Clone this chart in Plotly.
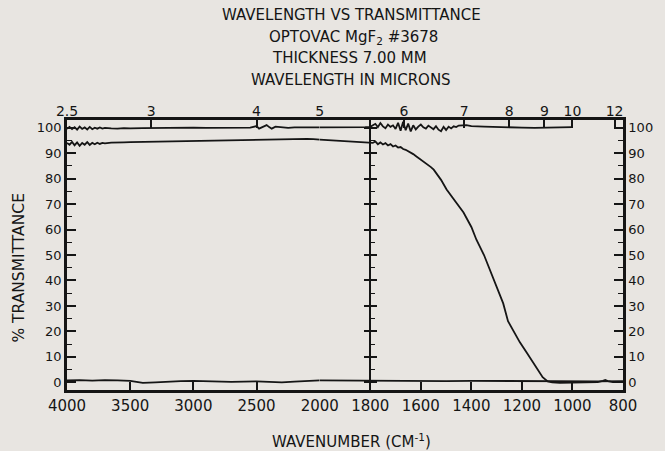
import plotly.graph_objects as go

# ---------------- data ----------------
# upper (100 %) reference trace
ref_wn = [4000, 3980, 3960, 3940, 3920, 3900, 3880, 3860, 3840, 3820, 3800, 3780, 3760, 3740,
          3720, 3700, 3650, 3600, 3550, 3500, 3400, 3300, 3200, 3100, 3000, 2900, 2800, 2700,
          2600, 2550, 2500, 2480, 2450, 2420, 2400, 2380, 2350, 2300, 2250, 2200, 2100, 2000,
          1900, 1820, 1800, 1790, 1780, 1770, 1760, 1750, 1740, 1730, 1720, 1710, 1700, 1690,
          1680, 1670, 1660, 1650, 1640, 1630, 1620, 1610, 1600, 1590, 1580, 1570, 1560, 1550,
          1540, 1530, 1520, 1510, 1500, 1490, 1480, 1470, 1460, 1450, 1420, 1400, 1350, 1300,
          1250, 1200, 1150, 1100, 1050, 1000]
ref_t = [99.5, 100.3, 99.4, 100.2, 99.2, 100.4, 99.5, 100.1, 99.3, 100.3, 99.4, 100.0, 99.6, 100.1,
         99.6, 99.9, 99.7, 99.6, 99.8, 99.7, 99.8, 99.9, 99.8, 99.9, 100.0, 99.9, 100.0, 99.9,
         100.1, 100.0, 100.6, 99.6, 100.3, 101.0, 100.2, 99.6, 100.4, 100.1, 99.9, 100.1, 100.0, 100.1,
         100.0, 100.2, 100.3, 100.8, 101.5, 100.2, 101.8, 100.5, 99.8, 101.2, 100.3, 100.9, 99.5, 101.9,
         98.8, 102.3, 99.0, 101.6, 98.5, 100.9, 99.3, 100.4, 101.2, 100.1, 99.6, 100.8, 100.0, 99.4,
         100.6, 99.2, 98.6, 100.3, 99.1, 100.4, 99.7, 100.5, 100.2, 100.8, 101.0, 100.6, 100.4, 100.2,
         100.1, 100.0, 99.9, 100.0, 100.1, 100.2]

# MgF2 sample trace
smp_wn = [4000, 3980, 3960, 3940, 3920, 3900, 3880, 3860, 3840, 3820, 3800, 3780, 3760, 3740,
          3720, 3700, 3650, 3600, 3550, 3500, 3400, 3300, 3200, 3100, 3000, 2900, 2800, 2700,
          2600, 2500, 2400, 2300, 2200, 2100, 2050, 2000, 1950, 1900, 1850, 1800, 1790, 1780,
          1770, 1760, 1750, 1740, 1730, 1720, 1710, 1700, 1690, 1680, 1670, 1660, 1650, 1640,
          1630, 1620, 1610, 1600, 1580, 1560, 1549, 1520, 1498, 1470, 1431, 1400, 1380, 1350,
          1325, 1300, 1274, 1255, 1230, 1208, 1180, 1157, 1135, 1118, 1098, 1080, 1050, 1000,
          950, 900, 880, 870, 860, 840, 800]
smp_t = [94.0, 93.3, 94.4, 93.1, 94.2, 92.9, 94.0, 93.3, 94.3, 93.2, 94.0, 93.5, 94.1, 93.6,
         94.0, 93.8, 94.1, 94.0, 94.2, 94.3, 94.4, 94.6, 94.7, 94.8, 94.9, 95.0, 95.1, 95.2,
         95.3, 95.4, 95.5, 95.6, 95.7, 95.6, 95.5, 95.3, 95.0, 94.8, 94.6, 94.3, 94.0, 94.6,
         93.5, 94.2, 93.4, 93.9, 93.0, 93.5, 92.6, 93.0, 92.2, 92.4, 91.6, 91.3, 90.8, 90.2,
         89.6, 88.9, 88.2, 87.4, 86.0, 84.5, 83.5, 79.5, 75.7, 71.8, 66.7, 61.0, 56.0, 50.0,
         44.0, 37.5, 31.0, 24.0, 19.5, 15.7, 11.5, 7.8, 4.5, 2.0, 0.4, 0.0, -0.2, -0.1,
         0.0, 0.1, 0.6, 0.9, 0.5, 0.1, 0.2]

# zero (blocked beam) trace
zero_wn = [4000, 3900, 3800, 3700, 3600, 3500, 3450, 3400, 3300, 3200, 3100, 3000, 2900, 2800,
           2700, 2600, 2500, 2400, 2300, 2200, 2100, 2000, 1900, 1800, 1700, 1600, 1500, 1400,
           1300, 1200, 1100, 1000, 900, 800]
zero_t = [0.8, 0.9, 0.7, 0.9, 0.8, 0.6, 0.2, -0.2, 0.0, 0.3, 0.5, 0.6, 0.4, 0.3,
          0.2, 0.3, 0.4, 0.2, 0.0, 0.3, 0.6, 0.8, 0.7, 0.6, 0.5, 0.4, 0.5, 0.6,
          0.5, 0.6, 0.4, 0.3, 0.4, 0.5]

wn_ticks_left = [4000, 3500, 3000, 2500, 2000]
wn_ticks_right = [1800, 1600, 1400, 1200, 1000, 800]
um_ticks_left = [2.5, 3, 4, 5]
um_ticks_left_text = ["2.5", "3", "4", "5"]
um_ticks_right = [6, 7, 8, 9, 10, 12]
um_ticks_right_text = ["6", "7", "8", "9", "10", "12"]
y_ticks = list(range(0, 101, 10))

TITLE_LINES = ["WAVELENGTH VS TRANSMITTANCE", "OPTOVAC MgF<sub>2</sub> #3678",
               "THICKNESS 7.00 MM", "WAVELENGTH IN MICRONS"]

# ---------------- layout helpers ----------------
BREAK = 2000
SPLIT = (4000 - BREAK) / ((4000 - BREAK) + 2 * (BREAK - 800))
INK = "#151515"
BG = "#e8e5e1"
FONT = "DejaVu Sans"
CENTER_WN = 1800
center_pos = SPLIT + (1 - SPLIT) * (BREAK - CENTER_WN) / (BREAK - 800)


def split(wn, t):
    lx, ly, rx, ry = [], [], [], []
    for a, b in zip(wn, t):
        if a >= BREAK:
            lx.append(a); ly.append(b)
        if a <= BREAK:
            rx.append(a); ry.append(b)
    return lx, ly, rx, ry


fig = go.Figure()
for wn, t in [(ref_wn, ref_t), (smp_wn, smp_t), (zero_wn, zero_t)]:
    lx, ly, rx, ry = split(wn, t)
    fig.add_trace(go.Scatter(x=lx, y=ly, xaxis="x", yaxis="y", mode="lines",
                             line=dict(color=INK, width=1.8), showlegend=False,
                             hoverinfo="skip"))
    fig.add_trace(go.Scatter(x=rx, y=ry, xaxis="x2", yaxis="y", mode="lines",
                             line=dict(color=INK, width=1.8), showlegend=False,
                             hoverinfo="skip"))

tickfont = dict(family=FONT, size=15, color=INK)
topfont = dict(family=FONT, size=14, color=INK)
common_x = dict(showgrid=False, zeroline=False, showline=True, linecolor=INK,
                linewidth=2.5, mirror=True, ticks="inside", ticklen=8, tickwidth=1.5,
                tickcolor=INK, tickfont=tickfont)
common_y = dict(range=[-3, 103], showgrid=False, zeroline=False, showline=True,
                linecolor=INK, linewidth=2.5, ticks="inside", ticklen=9, tickwidth=1.5,
                tickcolor=INK, tickvals=y_ticks, tickfont=dict(family=FONT, size=13, color=INK),
                minor=dict(dtick=5, ticks="inside", ticklen=5, tickwidth=1.2, tickcolor=INK))

fig.update_layout(
    width=665, height=451,
    margin=dict(l=67, r=35, t=120, b=61),
    paper_bgcolor=BG, plot_bgcolor=BG,
    xaxis=dict(domain=[0, SPLIT], range=[4000, BREAK], anchor="y",
               tickvals=wn_ticks_left, **common_x),
    xaxis2=dict(domain=[SPLIT, 1], range=[BREAK, 800], anchor="y",
                tickvals=wn_ticks_right, **common_x),
    xaxis3=dict(overlaying="x", side="top", range=[4000, BREAK], anchor="y",
                tickvals=[1e4 / u for u in um_ticks_left], ticktext=um_ticks_left_text,
                showgrid=False, zeroline=False, showline=False, ticks="inside", ticklen=8,
                tickwidth=1.5, tickcolor=INK, tickfont=topfont),
    xaxis4=dict(overlaying="x2", side="top", range=[BREAK, 800], anchor="y",
                tickvals=[1e4 / u for u in um_ticks_right], ticktext=um_ticks_right_text,
                showgrid=False, zeroline=False, showline=False, ticks="inside", ticklen=8,
                tickwidth=1.5, tickcolor=INK, tickfont=topfont),
    yaxis=dict(anchor="x", side="left", **common_y),
    yaxis2=dict(overlaying="y", anchor="x2", side="right", **common_y),
    yaxis3=dict(overlaying="y", anchor="free", position=center_pos, side="left",
                range=[-3, 103], showgrid=False, zeroline=False, showline=True,
                linecolor=INK, linewidth=1.5, ticks="outside", ticklen=6, tickwidth=1.5,
                tickcolor=INK, tickvals=y_ticks, showticklabels=False),
    yaxis4=dict(overlaying="y", anchor="free", position=center_pos, side="right",
                range=[-3, 103], showgrid=False, zeroline=False, showline=False,
                ticks="outside", ticklen=6, tickwidth=1.5, tickcolor=INK,
                tickvals=y_ticks, showticklabels=False,
                minor=dict(dtick=5, ticks="outside", ticklen=4, tickwidth=1.2, tickcolor=INK)),
)

# dummy traces so the overlay axes are drawn
fig.add_trace(go.Scatter(x=[None], y=[None], xaxis="x3", yaxis="y", showlegend=False))
fig.add_trace(go.Scatter(x=[None], y=[None], xaxis="x4", yaxis="y", showlegend=False))
fig.add_trace(go.Scatter(x=[None], y=[None], xaxis="x2", yaxis="y2", showlegend=False))
fig.add_trace(go.Scatter(x=[None], y=[None], xaxis="x2", yaxis="y3", showlegend=False))
fig.add_trace(go.Scatter(x=[None], y=[None], xaxis="x2", yaxis="y4", showlegend=False))

title_y = [1.389, 1.304, 1.230, 1.148]
title_x = [0.511, 0.515, 0.508, 0.511]
for txt, yy, xx in zip(TITLE_LINES, title_y, title_x):
    fig.add_annotation(text=txt, x=xx, y=yy, xref="paper", yref="paper", showarrow=False,
                       xanchor="center", yanchor="middle",
                       font=dict(family=FONT, size=15, color=INK))

fig.add_annotation(text="WAVENUMBER (CM<sup>-1</sup>)", x=0.511, y=-0.189, xref="paper",
                   yref="paper", showarrow=False, xanchor="center", yanchor="middle",
                   font=dict(family=FONT, size=15, color=INK))
fig.add_annotation(text="% TRANSMITTANCE", x=-0.087, y=0.452, xref="paper", yref="paper",
                   showarrow=False, textangle=-90, xanchor="center", yanchor="middle",
                   font=dict(family=FONT, size=15.5, color=INK))

fig.write_html("out.html",
               config={"displayModeBar": False},
               post_script="document.body.style.margin='0';"
                           "document.body.style.background='%s';" % BG)
